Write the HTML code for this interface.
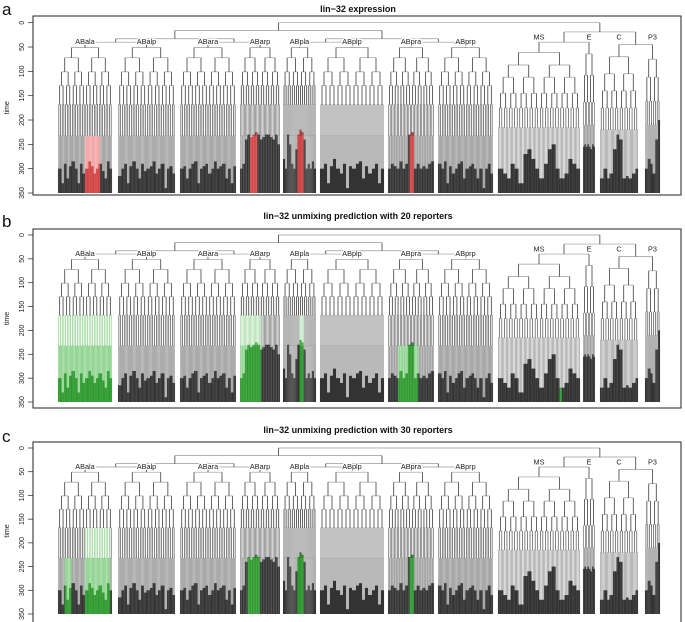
<!DOCTYPE html>
<html><head><meta charset="utf-8"><style>
body{margin:0;background:#fff}
svg{display:block;font-family:"Liberation Sans",sans-serif}
</style></head><body>
<svg id="fig" width="685" height="622" viewBox="0 0 685 622" xmlns="http://www.w3.org/2000/svg"></svg>
<script>
// ---- data ----
const cladeNames = ["ABala","ABalp","ABara","ABarp","ABpla","ABplp","ABpra","ABprp","MS","E","C","P3"];
const cladeTimes = [[51,72,101,129,168],[51,72,101,129,168],[51,72,101,129,168],[51,72,101,129,168],
  [51,72,101,129,168],[51,72,101,129,168],[51,72,101,129,168],[51,72,101,129,168],
  [61,87,112,145,175],[64,108,163],[70,105,140,175],[75,112,161]];
const cladeSubTimes = [232,232,232,232,232,232,232,232,215,210,220,210];
const darkStart = [
 [300,330,290,320,295,285,300,330,290,310,300,285,295,310,300,290,305,320,285,300],
 [315,300,290,330,295,285,300,320,290,305,300,295,285,310,300,290,340,300,295,310],
 [300,295,320,300,290,285,330,300,295,290,310,300,285,300,295,290,320,300,330,295],
 [300,290,240,230,235,230,225,230,240,235,230,230,235,240,230,250],
 [280,300,230,250,290,300,260,230,220,225,240,300,290,300,285,300],
 [300,290,330,295,280,300,310,290,340,295,300,290,285,320,295,310,300,290,330,300],
 [300,290,295,300,285,300,290,230,225,300,290,300,295,300,290,285],
 [290,300,285,330,295,310,300,290,285,320,300,295,290,300,320,300,340,300,290,310],
 [300,310,320,290,300,330,270,260,280,300,320,290,260,250,300,320,310,280,290,300],
 [255,250,255,250,255,260,250,255],
 [320,300,320,310,260,230,240,320,315,320,310,300],
 [300,280,290,310,240,200]];
const topTimes = {P0:0,AB:16,ABa:33,ABp:33,ABx:40,P1:19,EMS:40,P2:45};
const yTicks = [0,50,100,150,200,250,300,350];
const titles = ["lin\u221232 expression","lin\u221232 unmixing prediction with 20 reporters","lin\u221232 unmixing prediction with 30 reporters"];
const letters = ["a","b","c"];
const highlightA = [{c:0,from:16,to:25,t:215},{c:3,from:8,to:14,t:225},{c:4,from:14,to:20,t:215},{c:6,from:15,to:18,t:225}];
const highlightB = [{c:0,from:0,to:32,t:170},{c:3,from:0,to:17,t:170},{c:4,from:16,to:20,t:170},{c:6,from:7,to:21,t:180},{c:8,from:24,to:25,t:290}];
const highlightC = [{c:0,from:16,to:31,t:170},{c:0,from:4,to:8,t:230},{c:3,from:6,to:16,t:215},{c:4,from:14,to:20,t:200},{c:6,from:15,to:18,t:225}];

// ---- layout ----
const cladeLeft  = [58,118,180,240,283,320,388,438,498,583,600,645];
const cladeRight = [112,175,236,280,316,384,434,493,580,595,638,660];
const panels = [
 {top:16,bottom:195,y0:22.7,y350:193,titleY:12,letterY:15,hl:highlightA,light:"#f08a8a",dark:"#d04545"},
 {top:229,bottom:408,y0:235,y350:402,titleY:219,letterY:227,hl:highlightB,light:"#72c872",dark:"#2f9a2f"},
 {top:442,bottom:628,y0:448,y350:614,titleY:433,letterY:442,hl:highlightC,light:"#72c872",dark:"#2f9a2f"}];
const FL=33, FR=681;
const svg=document.getElementById('fig');
const NS="http://www.w3.org/2000/svg";
function mk(tag,attrs,parent){const e=document.createElementNS(NS,tag);for(const k in attrs)e.setAttribute(k,attrs[k]);parent.appendChild(e);return e;}

panels.forEach((P,pi)=>{
  const g=mk('g',{},svg);
  
  
  const Y=t=>P.y0+t*(P.y350-P.y0)/350;
  const hline=(x1,x2,t,col)=>mk('line',{x1:x1,x2:x2,y1:Y(t),y2:Y(t),stroke:col||'#9a9a9a','stroke-width':0.7},g);
  const vline=(x,t1,t2,col,w)=>mk('line',{x1:x,x2:x,y1:Y(t1),y2:Y(t2),stroke:col||'#222','stroke-width':w||0.7},g);
  const hlFor=(c,leaf)=>P.hl.find(h=>h.c===c&&leaf>=h.from&&leaf<h.to);
  const rootX=[];
  cladeNames.forEach((nm,c)=>{
    const T=cladeTimes[c],D=T.length,N=1<<D,L=cladeLeft[c],R=cladeRight[c];
    const sp=(R-L)/N, sub=cladeSubTimes[c], dk=darkStart[c];
    const cg=mk('g',{},g);
    
    
    const lw=Math.min(0.6,sp*0.35);
    for(let i=0;i<N;i++){
      const x=L+(i+0.5)*sp;
      const h=hlFor(c,i);
      vline(x,T[D-1],sub,(h&&h.t<=T[D-1]+2)?P.light:'#333',lw);
      const s1=x-sp/4,s2=x+sp/4;
      mk('line',{x1:s1,x2:s2,y1:Y(sub),y2:Y(sub),stroke:'#999','stroke-width':0.5},cg);
      [s1,s2].forEach((sx,j)=>{
        const k=i*2+j; const d=dk[Math.floor(k*dk.length/(2*N))];
        mk('line',{x1:sx,x2:sx,y1:Y(sub),y2:Y(350),stroke:(h&&h.t<=sub)?P.light:'#8a8a8a','stroke-width':lw},cg);
        if(d<350){mk('rect',{x:sx-sp*0.27,y:Y(d),width:sp*0.54,height:Y(350)-Y(d),fill:h?P.dark:'#333'},cg);}
      });
    }
    function nodeX(d,a,b){
      const m=(a+b)/2;
      let xl,xr;
      if(d===D-1){xl=L+(a+0.5)*sp;xr=L+(m+0.5)*sp;}
      else{xl=nodeX(d+1,a,m);xr=nodeX(d+1,m,b);
        vline(xl,T[d],T[d+1]);vline(xr,T[d],T[d+1]);}
      hline(xl,xr,T[d]);
      return (xl+xr)/2;
    }
    rootX[c]=nodeX(0,0,N);
  });
  const mid=(a,b)=>(a+b)/2;
  const ABal=mid(rootX[0],rootX[1]),ABar=mid(rootX[2],rootX[3]),ABpl=mid(rootX[4],rootX[5]),ABpr=mid(rootX[6],rootX[7]);
  const ABa=mid(ABal,ABar),ABp=mid(ABpl,ABpr),AB=mid(ABa,ABp);
  const EMS=mid(rootX[8],rootX[9]),P2=mid(rootX[10],rootX[11]),P1=mid(EMS,P2);
  const tt=topTimes;
  [[0,1],[2,3],[4,5],[6,7]].forEach(([i,j])=>{hline(rootX[i],rootX[j],tt.ABx);vline(rootX[i],tt.ABx,cladeTimes[i][0]);vline(rootX[j],tt.ABx,cladeTimes[j][0]);});
  hline(ABal,ABar,tt.ABa);vline(ABal,tt.ABa,tt.ABx);vline(ABar,tt.ABa,tt.ABx);
  hline(ABpl,ABpr,tt.ABp);vline(ABpl,tt.ABp,tt.ABx);vline(ABpr,tt.ABp,tt.ABx);
  hline(ABa,ABp,tt.AB);vline(ABa,tt.AB,tt.ABa);vline(ABp,tt.AB,tt.ABp);
  hline(rootX[8],rootX[9],tt.EMS);vline(rootX[8],tt.EMS,cladeTimes[8][0]);vline(rootX[9],tt.EMS,cladeTimes[9][0]);
  hline(rootX[10],rootX[11],tt.P2);vline(rootX[10],tt.P2,cladeTimes[10][0]);vline(rootX[11],tt.P2,cladeTimes[11][0]);
  hline(EMS,P2,tt.P1);vline(EMS,tt.P1,tt.EMS);vline(P2,tt.P1,tt.P2);
  hline(AB,P1,tt.P0);vline(AB,tt.P0,tt.AB);vline(P1,tt.P0,tt.P1);
  cladeNames.forEach((nm,c)=>{
    const isAB=c<8;
    const t=mk('text',{x:rootX[c],y:Y(isAB?44:35),'font-size':7.3,'text-anchor':'middle',fill:'#222',stroke:'#fff','stroke-width':2.5,'paint-order':'stroke'},g);
    t.textContent=nm;
    
    
  });
  const fr=mk('rect',{x:FL,y:P.top,width:FR-FL,height:P.bottom-P.top,fill:'none',stroke:'#222','stroke-width':1},g);
  
  
  yTicks.forEach(v=>{
    mk('line',{x1:FL-5,x2:FL,y1:Y(v),y2:Y(v),stroke:'#222','stroke-width':0.7},g);
    const tx=mk('text',{x:0,y:0,'font-size':7,'text-anchor':'middle',fill:'#222',transform:`translate(24,${Y(v)}) rotate(-90)`},g);
    tx.textContent=v;
    
    
  });
  const yt=mk('text',{x:0,y:0,'font-size':7,'text-anchor':'middle',fill:'#222',transform:`translate(9,${(Y(0)+Y(350))/2}) rotate(-90)`},g);
  yt.textContent='time';
  
  
  const ti=mk('text',{x:358,y:P.titleY,'font-size':9,'font-weight':'bold','text-anchor':'middle',fill:'#111'},g);
  ti.textContent=titles[pi];
  
  
  const le=mk('text',{x:2,y:P.letterY,'font-size':17,fill:'#111'},g);
  le.textContent=letters[pi];
  
  
});
</script>
</body></html>
